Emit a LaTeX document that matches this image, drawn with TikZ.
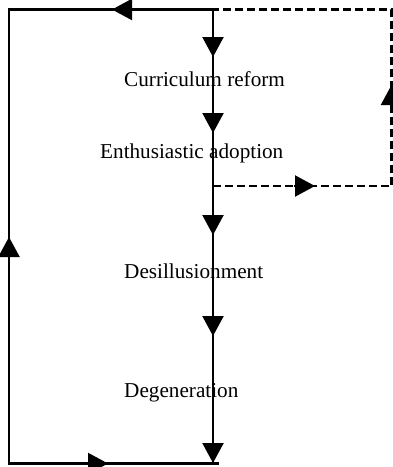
\documentclass[tikz,border=0pt]{standalone}
\usepackage{fontspec}
\setmainfont{Liberation Serif}
\usetikzlibrary{arrows.meta}
\begin{document}
\begin{tikzpicture}[x=1pt,y=-1pt,
  flow/.style={line width=2.2pt},
  dashflow/.style={line width=2.2pt, dash pattern=on 8pt off 4pt},
  tipped/.style={line width=2.2pt, -{Triangle[length=20pt,width=21pt]}},
  lbl/.style={anchor=base west, inner sep=0pt, font=\fontsize{21.2}{25}\selectfont}]
\useasboundingbox (0,0) rectangle (393,467);
% corners
\coordinate (top) at (213,9.5);
\coordinate (tl) at (9,9.5);
\coordinate (bl) at (9,463.5);
\coordinate (br) at (219,463.5);
\coordinate (bot) at (213,463.5);
\coordinate (split) at (213,186);
\coordinate (dr) at (391.5,186);
\coordinate (tr) at (391.5,9.5);
% labels
\node[lbl] (reform) at (124,86.5) {Curriculum reform};
\node[lbl] (adopt) at (100,158) {Enthusiastic adoption};
\node[lbl] (desill) at (124,278) {Desillusionment};
\node[lbl] (degen) at (124,397) {Degeneration};
% arrow tips and their bases
\coordinate (t1) at (213,57);   \coordinate (b1) at (213,36);
\coordinate (t2) at (213,133);  \coordinate (b2) at (213,112);
\coordinate (t3) at (213,235);  \coordinate (b3) at (213,214);
\coordinate (t4) at (213,336);  \coordinate (b4) at (213,315);
\coordinate (t5) at (213,463);  \coordinate (b5) at (213,442);
\coordinate (tt) at (112,9.5);  \coordinate (bt) at (133,9.5);
\coordinate (tlu) at (9,237);   \coordinate (blu) at (9,258);
\coordinate (tbr) at (108,463.5); \coordinate (bbr) at (87,463.5);
\coordinate (tdr) at (315,186); \coordinate (bdr) at (294,186);
\coordinate (tdu) at (391.5,85); \coordinate (bdu) at (391.5,106);
% solid loop
\draw[flow] (top) -- (bot);
\draw[flow] (top) -- (tl) -- (bl) -- (br);
% dashed loop
\draw[dashflow] (split) -- (dr) -- (tr) -- (top);
% arrowheads
\foreach \b/\t in {b1/t1,b2/t2,b3/t3,b4/t4,b5/t5,bt/tt,blu/tlu,bbr/tbr,bdr/tdr,bdu/tdu}
  \draw[tipped] (\b) -- (\t);
\end{tikzpicture}
\end{document}
